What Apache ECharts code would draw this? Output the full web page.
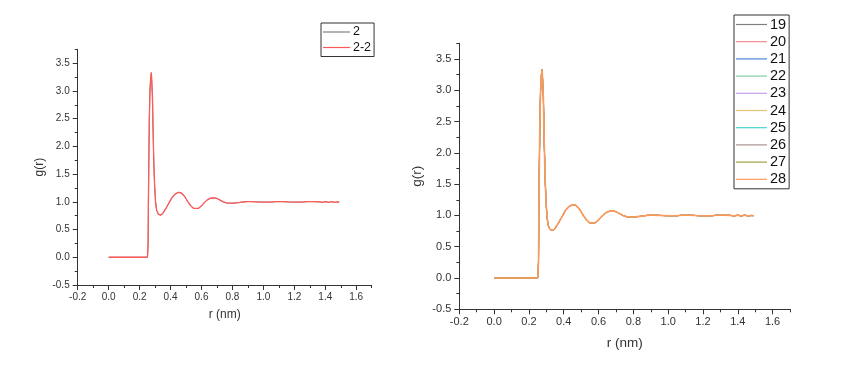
<!DOCTYPE html>
<html>
<head>
<meta charset="utf-8">
<script src="https://cdn.jsdelivr.net/npm/echarts@6/dist/echarts.min.js"></script>
<style>
html,body{margin:0;padding:0;background:#fff;}
#c{width:860px;height:374px;}
</style>
</head>
<body>
<div id="c"></div>
<script>
// r (nm) sample positions
const rValues = [0.00,0.05,0.10,0.15,0.20,0.25,0.252,0.255,0.257,0.260,0.263,0.267,0.272,0.276,0.279,0.283,0.287,0.292,0.297,0.303,0.310,0.320,0.335,0.350,0.370,0.390,0.410,0.430,0.450,0.470,0.490,0.510,0.530,0.550,0.560,0.580,0.600,0.620,0.640,0.660,0.680,0.700,0.720,0.740,0.760,0.780,0.800,0.820,0.840,0.860,0.880,0.900,0.920,0.950,1.000,1.050,1.080,1.120,1.160,1.200,1.250,1.280,1.320,1.360,1.380,1.400,1.420,1.440,1.460,1.480,1.490];
// g(r) values
const gValues = [0,0,0,0,0,0,0.05,0.25,1.0,1.8,2.5,3.0,3.25,3.33,3.30,2.9,2.3,1.7,1.3,1.0,0.85,0.78,0.76,0.79,0.88,0.98,1.08,1.14,1.17,1.16,1.10,1.01,0.93,0.88,0.87,0.88,0.93,0.99,1.04,1.065,1.07,1.06,1.03,1.00,0.98,0.975,0.975,0.98,0.985,0.995,1.0,1.005,1.005,1.0,0.995,0.995,1.003,1.004,0.998,0.993,0.995,1.003,1.004,1.0,0.99,1.005,0.99,1.005,0.99,1.0,0.995];

const leftNames = ['2','2-2'];
const leftColors = ['#808080','#ff5a5a'];
const rightNames = ['19','20','21','22','23','24','25','26','27','28'];
const rightColors = ['#808080','#f58a8a','#4f86d8','#7ccf9c','#c3a0ea','#e2c474','#46d6d0','#a89090','#a0a040','#ff9a5c'];

const xMajor = [-0.2,0,0.2,0.4,0.6,0.8,1.0,1.2,1.4,1.6];
const yMajor = [-0.5,0,0.5,1.0,1.5,2.0,2.5,3.0,3.5];

const pts = rValues.map((r,i)=>[r,gValues[i]]);
const font = 'Liberation Sans';
const txt = '#333';

function fmt(v){ return v.toFixed(1); }

function axesFor(gi, fs, tfs, titleGapX, titleGapY){
  const xs = [
    {type:'value', gridIndex:gi, min:-0.2, max:1.7, interval:0.2, position:'bottom',
     name:'r (nm)', nameLocation:'middle', nameGap:titleGapX,
     nameTextStyle:{fontFamily:font,fontSize:tfs,color:txt},
     axisLine:{show:true,onZero:false,lineStyle:{color:'#333',width:1}},
     axisTick:{show:true,length:5,customValues:xMajor,lineStyle:{color:'#333'}},
     axisLabel:{customValues:xMajor,formatter:fmt,fontFamily:font,fontSize:fs,color:txt,margin:7},
     splitLine:{show:false}},
    {type:'value', gridIndex:gi, min:-0.2, max:1.7, interval:0.1, position:'bottom',
     axisLine:{show:false,onZero:false}, axisTick:{show:true,length:3,lineStyle:{color:'#333'}},
     axisLabel:{show:false}, splitLine:{show:false}}
  ];
  const ys = [
    {type:'value', gridIndex:gi, min:-0.5, max:3.75, interval:0.5, position:'left',
     name:'g(r)', nameLocation:'middle', nameGap:titleGapY,
     nameTextStyle:{fontFamily:font,fontSize:tfs,color:txt},
     axisLine:{show:true,onZero:false,lineStyle:{color:'#333',width:1}},
     axisTick:{show:true,length:5,customValues:yMajor,lineStyle:{color:'#333'}},
     axisLabel:{customValues:yMajor,formatter:fmt,fontFamily:font,fontSize:fs,color:txt,margin:8},
     splitLine:{show:false}},
    {type:'value', gridIndex:gi, min:-0.5, max:3.75, interval:0.25, position:'left',
     axisLine:{show:false,onZero:false}, axisTick:{show:true,length:3,lineStyle:{color:'#333'}},
     axisLabel:{show:false}, splitLine:{show:false}}
  ];
  return {xs, ys};
}

const a0 = axesFor(0, 10, 12, 24, 32);
const a1 = axesFor(1, 11, 13.5, 27, 35);

const series = [];
leftNames.forEach((n,i)=>{
  series.push({name:n,type:'line',xAxisIndex:0,yAxisIndex:0,data:pts,showSymbol:false,symbol:'none',
    lineStyle:{color:leftColors[i],width:i===leftNames.length-1?1.3:1},itemStyle:{color:leftColors[i]},animation:false});
});
rightNames.forEach((n,i)=>{
  series.push({name:n,type:'line',xAxisIndex:2,yAxisIndex:2,data:pts,showSymbol:false,symbol:'none',
    lineStyle:{color:rightColors[i],width:i===rightNames.length-1?1.6:1},itemStyle:{color:rightColors[i]},animation:false});
});

const chart = echarts.init(document.getElementById('c'),null,{renderer:'canvas'});
chart.setOption({
  backgroundColor:'#fff',
  animation:false,
  grid:[
    {left:77.7, right:488.3, top:49.3, bottom:89},
    {left:459.3, right:70, top:43.3, bottom:64.7}
  ],
  xAxis:[...a0.xs, ...a1.xs],
  yAxis:[...a0.ys, ...a1.ys],
  legend:[
    {data:leftNames, orient:'vertical', left:321, top:23, icon:'rect', itemWidth:27, itemHeight:1.2,
     itemGap:2.5, padding:[2.5,3,2.5,2], borderColor:'#333', borderWidth:1,
     textStyle:{fontFamily:font,fontSize:12.5,lineHeight:13,color:'#111',padding:[0,0,0,-2]}},
    {data:rightNames, orient:'vertical', left:734, top:15, icon:'rect', itemWidth:31, itemHeight:1.2,
     itemGap:2.2, padding:[2,3,2,2], borderColor:'#333', borderWidth:1,
     textStyle:{fontFamily:font,fontSize:14.5,lineHeight:15,color:'#111',padding:[0,0,0,-2]}}
  ],
  series
});
</script>
</body>
</html>
